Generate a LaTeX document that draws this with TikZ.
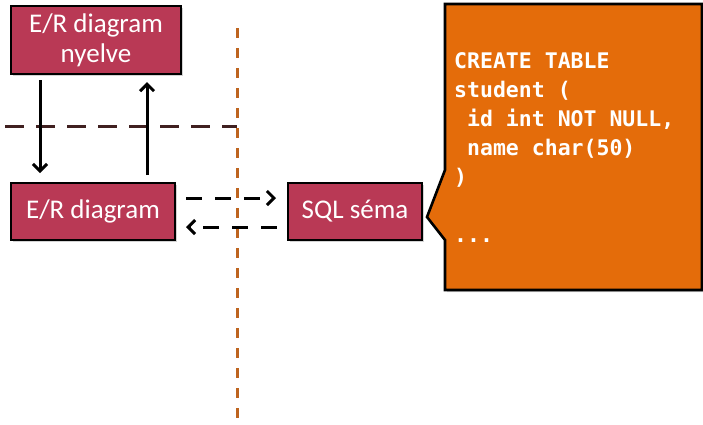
\documentclass[tikz,border=0pt]{standalone}
\usepackage{fontspec}
\setmainfont{Carlito}
\newfontfamily\codefont{DejaVu Sans Mono}
\usetikzlibrary{arrows.meta,shadows}
\definecolor{boxred}{RGB}{185,57,85}
\definecolor{calloutorange}{RGB}{228,108,10}
\definecolor{vline}{RGB}{190,100,30}
\definecolor{hline}{RGB}{64,32,32}
\tikzset{
  redbox/.style={draw=black, line width=2.6pt, fill=boxred, text=white, font=\fontsize{27}{30}\selectfont, align=center, inner sep=0pt,
    drop shadow={opacity=0.35, shadow xshift=2pt, shadow yshift=-2pt}},
  solidarrow/.style={line width=3pt, -{Straight Barb[length=7pt,width=14pt,line width=3pt]}},
  dasharrow/.style={line width=3pt, dash pattern=on 16pt off 13pt, -{Straight Barb[length=7pt,width=14pt,line width=3pt]}},
  codeline/.style={anchor=base west, inner sep=0pt, text=white, font=\codefont\bfseries\fontsize{21.5}{29}\selectfont},
}
\begin{document}
\begin{tikzpicture}[x=1pt,y=-1pt]
\useasboundingbox (0,0) rectangle (703,424);
% separators
\draw[vline, line width=3pt, dash pattern=on 10pt off 10pt] (237,28) -- (237,424);
\draw[hline, line width=3pt, dash pattern=on 19pt off 12pt] (5,126) -- (237,126);
% boxes
\node[redbox, minimum width=170pt, minimum height=68pt] (lang) at (96,40) {E/R diagram\\nyelve};
\node[redbox, minimum width=164pt, minimum height=57pt] (er) at (93,211.5) {E/R diagram};
\node[redbox, minimum width=134pt, minimum height=57pt] (sql) at (355,211.5) {SQL séma};
% callout
\path[fill=calloutorange, draw=black, line width=2.6pt, drop shadow={opacity=0.35, shadow xshift=2pt, shadow yshift=-2pt}]
  (445,4) -- (702,4) -- (702,290) -- (445,290) -- (445,240) -- (427,217) -- (445,170) -- cycle;
\node[codeline] (c1) at (454,68) {CREATE TABLE};
\node[codeline] (c2) at (454,97) {student (};
\node[codeline] (c3) at (454,126) {\hphantom{x}id int NOT NULL,};
\node[codeline] (c4) at (454,155) {\hphantom{x}name char(50)};
\node[codeline] (c5) at (454,184) {)};
\node[codeline] (c6) at (454,242) {...};
% arrows
\draw[solidarrow] (40,80) -- (40,173);
\draw[solidarrow] (147,175) -- (147,82);
\draw[dasharrow] (er.east |- 0,198) ++(10,0) -- (276,198);
\draw[dasharrow] (sql.west |- 0,227) ++(-10,0) -- (186,227);
\end{tikzpicture}
\end{document}
